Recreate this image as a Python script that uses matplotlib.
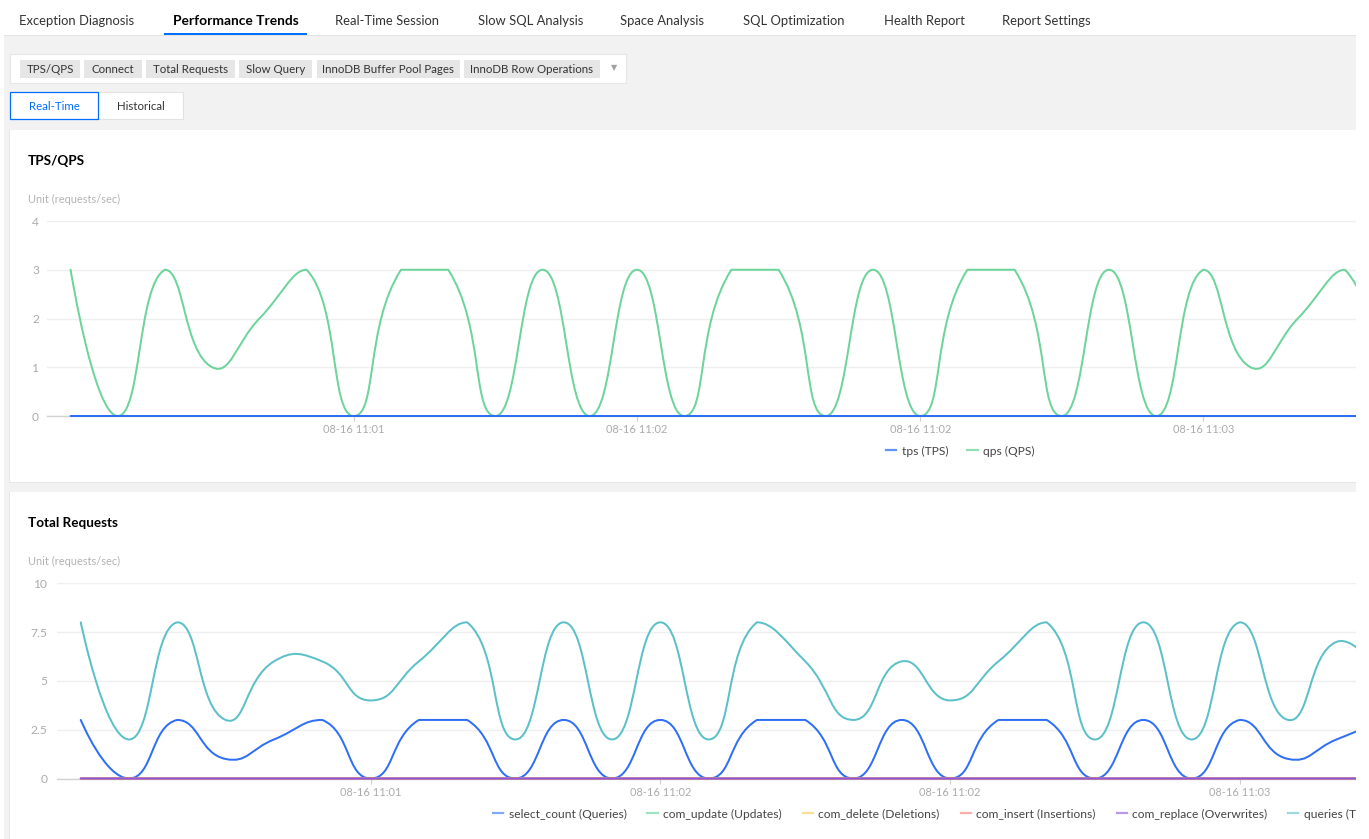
import numpy as np
import matplotlib
matplotlib.use("Agg")
import matplotlib.pyplot as plt
from matplotlib.path import Path
from matplotlib.patches import PathPatch, Rectangle
from matplotlib.lines import Line2D

# ---------------- data ----------------
tabs = ["Exception Diagnosis", "Performance Trends", "Real-Time Session", "Slow SQL Analysis",
        "Space Analysis", "SQL Optimization", "Health Report", "Report Settings"]
metric_buttons = ["TPS/QPS", "Connect", "Total Requests", "Slow Query",
                  "InnoDB Buffer Pool Pages", "InnoDB Row Operations"]
mode_buttons = ["Real-Time", "Historical"]

tick_positions = [6, 12, 18, 24]
tick_labels = ["08-16 11:01", "08-16 11:02", "08-16 11:02", "08-16 11:03"]

# chart 1: TPS/QPS
tps = [0] * 29
qps = [3, 0, 3, 1, 2, 3, 0, 3, 3, 0, 3, 0, 3, 0, 3, 3, 0, 3, 0, 3, 3, 0, 3, 0, 3, 1, 2, 3, 0]
legend1 = ["tps (TPS)", "qps (QPS)"]

# chart 2: Total Requests
select_count = [3, 0, 3, 1, 2, 3, 0, 3, 3, 0, 3, 0, 3, 0, 3, 3, 0, 3, 0, 3, 3, 0, 3, 0, 3, 1, 2, 3]
com_update = [0] * 28
com_delete = [0] * 28
com_insert = [0] * 28
com_replace = [0] * 28
queries = [8, 2, 8, 3, 6, 6, 4, 6, 8, 2, 8, 2, 8, 2, 8, 6, 3, 6, 4, 6, 8, 2, 8, 2, 8, 3, 7, 5]
legend2 = ["select_count (Queries)", "com_update (Updates)", "com_delete (Deletions)",
           "com_insert (Insertions)", "com_replace (Overwrites)", "queries (T"]

# ---------------- helpers ----------------
W, H = 1369, 839
plt.rcParams['font.family'] = ['Lato', 'DejaVu Sans']
fig = plt.figure(figsize=(W / 100, H / 100), dpi=100)
fig.patch.set_facecolor('white')


def X(px):
    return px / W


def Y(py):
    return 1 - py / H


def PT(px):
    return px * 0.72


def rect(x0, y0, x1, y1, fc, ec='none', lw=0, z=-10):
    r = Rectangle((X(x0), Y(y1)), X(x1) - X(x0), Y(y0) - Y(y1), transform=fig.transFigure,
                  facecolor=fc, edgecolor=ec, linewidth=lw, zorder=z)
    fig.add_artist(r)
    return r


def text(px, py, s, **kw):
    kw.setdefault('va', 'center')
    kw.setdefault('ha', 'left')
    fig.text(X(px), Y(py), s, **kw)


def smooth_path(ax, xs, ys, smooth=0.5):
    """ECharts-style smoothed polyline (bezier with bounding-box constraint)."""
    pts = ax.transData.transform(np.column_stack([xs, ys]).astype(float))
    mn = pts.min(axis=0)
    mx = pts.max(axis=0)
    n = len(pts)
    verts = [pts[0]]
    codes = [Path.MOVETO]
    cp0 = pts[0].copy()
    for i in range(1, n):
        p = pts[i]
        prev = pts[i - 1]
        if i < n - 1:
            nxt = pts[i + 1]
            v = nxt - prev
            lp = np.hypot(*(p - prev))
            ln = np.hypot(*(nxt - p))
            r = ln / (lp + ln) if (lp + ln) > 0 else 0.5
            cp1 = p - v * smooth * (1 - r)
        else:
            v = np.zeros(2)
            r = 0.5
            cp1 = p.copy()
        a = np.clip(cp0, mn, mx)
        b = np.clip(cp1, mn, mx)
        verts += [a, b, p]
        codes += [Path.CURVE4] * 3
        cp0 = p + v * smooth * r
    verts = ax.transData.inverted().transform(np.array(verts))
    return Path(verts, codes)


def draw_series(ax, ys, color, z):
    xs = np.arange(len(ys))
    patch = PathPatch(smooth_path(ax, xs, ys), fill=False, edgecolor=color,
                      linewidth=PT(2), capstyle='round', joinstyle='round', zorder=z,
                      clip_on=False)
    ax.add_patch(patch)


def style_axis(ax, yticks, ylabels, ypad):
    ax.set_facecolor('none')
    for s in ['top', 'right', 'left']:
        ax.spines[s].set_visible(False)
    ax.spines['bottom'].set_color('#d2d2d2')
    ax.spines['bottom'].set_linewidth(1)
    ax.set_yticks(yticks)
    ax.set_yticklabels(ylabels)
    ax.tick_params(axis='y', length=0, labelsize=PT(12), labelcolor='#ababab', pad=ypad)
    ax.set_xticks(tick_positions)
    ax.set_xticklabels(tick_labels)
    ax.tick_params(axis='x', length=PT(5), width=0.8, color='#cfcfcf', labelsize=PT(11),
                   labelcolor='#ababab', pad=2.5)
    ax.grid(axis='y', color='#efefef', linewidth=1)
    ax.set_axisbelow(True)


# ---------------- page chrome ----------------
rect(4, 35, 1356, 839, '#f2f2f2', z=-30)
rect(4, 10, 1356, 35, 'white', z=-25)
rect(4, 34.5, 1356, 36, '#e4e4e4', z=-24)

tab_x = [19, 173, 335, 478, 620, 743, 884, 1002]
for tx, t in zip(tab_x, tabs):
    bold = (t == "Performance Trends")
    text(tx, 21, t, fontsize=PT(13.7) if bold else PT(13), color='#000000' if bold else '#333333',
         fontweight='bold' if bold else 'normal')
rect(164, 32.5, 307, 35, '#006eff', z=-20)

# metric buttons
rect(10, 54, 626, 83, 'white', ec='#e6e6e6', lw=0.8, z=-20)
btn_x = [(20, 80), (84, 142), (146, 235), (239, 312), (317, 460), (464, 600)]
for (x0, x1), b in zip(btn_x, metric_buttons):
    rect(x0, 60, x1, 78, '#e6e6e6', z=-15)
    text((x0 + x1) / 2, 69.5, b, ha='center', fontsize=PT(11.5), color='#333333')
text(614, 68, '▼', ha='center', fontsize=PT(8), color='#a0a0a0')

# real-time / historical
rect(98, 92, 183, 119, 'white', ec='#e2e2e2', lw=0.8, z=-16)
rect(10, 92, 98, 119, 'white', ec='#006eff', lw=0.9, z=-15)
text(54, 106, mode_buttons[0], ha='center', fontsize=PT(11.5), color='#006eff')
text(140.5, 106, mode_buttons[1], ha='center', fontsize=PT(11.5), color='#333333')

# cards
rect(9, 130, 1356, 483, '#e6e6e6', z=-21)
rect(10, 130, 1356, 482, 'white', z=-20)
rect(9, 492, 1356, 839, '#e6e6e6', z=-21)
rect(10, 492, 1356, 839, 'white', z=-20)

text(28, 161, "TPS/QPS", fontsize=PT(13.5), fontweight='bold', color='#000000')
text(28, 199, "Unit (requests/sec)", fontsize=PT(11), color='#b3b3b3')
text(28, 523, "Total Requests", fontsize=PT(13.5), fontweight='bold', color='#000000')
text(28, 561, "Unit (requests/sec)", fontsize=PT(11), color='#b3b3b3')

# ---------------- chart 1 ----------------
ax1 = fig.add_axes([X(47), Y(416), X(1356) - X(47), Y(221) - Y(416)])
ax1.set_xlim(-0.5, -0.5 + (1356 - 47) / 47.2)
ax1.set_ylim(0, 4)
style_axis(ax1, [0, 1, 2, 3, 4], ["0", "1", "2", "3", "4"], PT(8))

c_blue = '#2f6ff6'
c_green = '#6dd49b'
draw_series(ax1, qps, c_green, 3)
draw_series(ax1, tps, c_blue, 4)

h1 = [Line2D([], [], color=c_blue, lw=1.6, alpha=0.75),
      Line2D([], [], color=c_green, lw=1.6, alpha=0.75)]
fig.legend(h1, legend1, loc='center left', bbox_to_anchor=(X(886), Y(451)),
           ncol=2, frameon=False, fontsize=PT(12), labelcolor='#444444', handlelength=0.85,
           handletextpad=0.45, columnspacing=1.6, borderpad=0, borderaxespad=0)

# ---------------- chart 2 ----------------
ax2 = fig.add_axes([X(56.6), Y(778.5), X(1356) - X(56.6), Y(583.3) - Y(778.5)])
ax2.set_xlim(-0.5, -0.5 + (1356 - 56.6) / 48.3)
ax2.set_ylim(0, 10)
style_axis(ax2, [0, 2.5, 5, 7.5, 10], ["0", "2.5", "5", "7.5", "10"], PT(9))

c_upd = '#5fd39a'
c_del = '#ffcb52'
c_ins = '#f7786d'
c_rep = '#8e55dd'
c_teal = '#5cc0c9'
draw_series(ax2, select_count, c_blue, 3)
draw_series(ax2, com_update, c_upd, 4)
draw_series(ax2, com_delete, c_del, 5)
draw_series(ax2, com_insert, c_ins, 6)
draw_series(ax2, com_replace, c_rep, 7)
draw_series(ax2, queries, c_teal, 8)

h2 = [Line2D([], [], color=c, lw=1.6, alpha=0.6)
      for c in [c_blue, c_upd, c_del, c_ins, c_rep, c_teal]]
fig.legend(h2, legend2, loc='center left', bbox_to_anchor=(X(493), Y(814)), ncol=6, frameon=False,
           fontsize=PT(12), labelcolor='#444444', handlelength=0.85, handletextpad=0.45,
           columnspacing=1.75, borderpad=0, borderaxespad=0)

# right edge of the screenshot
rect(1356, 0, 1369, 839, 'white', z=50)

fig.savefig("out.png", dpi=100, facecolor='white')
